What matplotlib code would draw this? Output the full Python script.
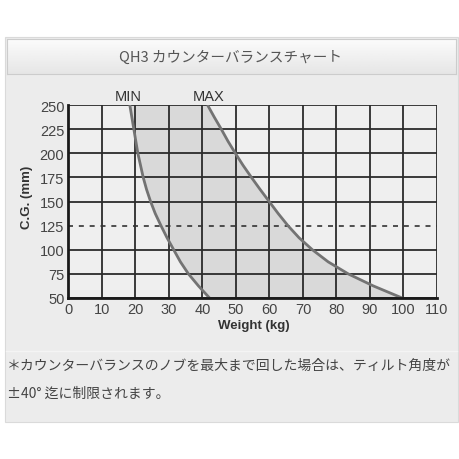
import matplotlib
matplotlib.use("Agg")
import matplotlib.pyplot as plt
import numpy as np
from matplotlib.patches import Rectangle

# --- data --------------------------------------------------------------------
CG_MM = [50, 62.5, 75, 87.5, 100, 112.5, 125, 137.5, 150,
         162.5, 175, 187.5, 200, 212.5, 225, 237.5, 250]
MIN_WEIGHT = [42.1, 38.8, 35.8, 33.4, 31.4, 29.4, 27.6, 25.9, 24.5,
              23.3, 22.3, 21.5, 20.7, 20.1, 19.5, 18.9, 18.3]
MAX_WEIGHT = [99.6, 91.0, 83.5, 77.5, 72.8, 68.8, 65.5, 62.6, 59.9,
              57.2, 54.6, 52.1, 49.8, 47.6, 45.6, 43.5, 41.5]
X_TICKS = list(range(0, 111, 10))
Y_TICKS = list(range(50, 251, 25))
LIMIT_CG = 125

TITLE = "QH3 カウンターバランスチャート"
NOTE_1 = "＊カウンターバランスのノブを最大まで回した場合は、ティルト角度が"
NOTE_2 = "±40° 迄に制限されます。"

W = H = 460
JP = ["Noto Sans CJK JP", "DejaVu Sans"]
SANS = ["Liberation Sans", "DejaVu Sans"]


def fx(px):
    return px / W


def fy(py):
    return 1 - py / H


fig = plt.figure(figsize=(4.6, 4.6), dpi=100)
fig.patch.set_facecolor("white")

# panel body (kept behind the axes)
panel = Rectangle((fx(5), fy(423)), fx(453), (423 - 38) / H,
                  transform=fig.transFigure, facecolor="#ececec",
                  edgecolor="#dadada", linewidth=0.8, zorder=-10)
fig.add_artist(panel)
fig.add_artist(plt.Line2D([fx(6), fx(457)], [fy(352), fy(352)],
                          transform=fig.transFigure, color="#f4f4f4",
                          lw=1.0, zorder=-9))

# title bar with a soft vertical gradient
tax = fig.add_axes([fx(7), fy(75), fx(449), (75 - 40) / H])
grad = np.linspace(0.985, 0.90, 64).reshape(-1, 1)
tax.imshow(grad, cmap="gray", vmin=0, vmax=1, aspect="auto",
           extent=[0, 1, 0, 1])
tax.set_xticks([])
tax.set_yticks([])
for s in tax.spines.values():
    s.set_color("#cccccc")
    s.set_linewidth(0.8)
fig.text(fx(231), fy(58), TITLE, family=JP, fontsize=10.5, color="#555555",
         ha="center", va="center")

# chart
ax = fig.add_axes([fx(68.5), fy(299), fx(437 - 68.5), (299 - 106) / H])
ax.set_facecolor("#efefef")
ax.set_xlim(0, 110)
ax.set_ylim(50, 250)

ax.fill_betweenx(CG_MM, MIN_WEIGHT, MAX_WEIGHT, color="#d9d9d9",
                 linewidth=0, zorder=1)

for v in X_TICKS:
    ax.axvline(v, color="#2b2b2b", lw=1.3, zorder=2)
for v in Y_TICKS:
    if v == LIMIT_CG:
        ax.axhline(v, color="#333333", lw=1.2, ls=(0, (3, 3.5)), zorder=2)
    else:
        ax.axhline(v, color="#2b2b2b", lw=1.3, zorder=2)

ax.plot(MIN_WEIGHT, CG_MM, color="#737373", lw=2.0, zorder=3,
        solid_capstyle="butt", solid_joinstyle="round")
ax.plot(MAX_WEIGHT, CG_MM, color="#737373", lw=2.0, zorder=3,
        solid_capstyle="butt", solid_joinstyle="round")

ax.set_xticks(X_TICKS)
ax.set_yticks(Y_TICKS)
ax.tick_params(length=0, pad=3, labelsize=10.5, labelcolor="#444444")
for lab in ax.get_xticklabels() + ax.get_yticklabels():
    lab.set_family(SANS)
for side in ("top", "right"):
    ax.spines[side].set_visible(False)
for side in ("left", "bottom"):
    ax.spines[side].set_linewidth(2.0)
    ax.spines[side].set_color("#1a1a1a")
    ax.spines[side].set_zorder(4)

fig.text(fx(128), fy(97), "MIN", family=SANS, fontsize=10.5,
         color="#333333", ha="center", va="center")
fig.text(fx(209), fy(97), "MAX", family=SANS, fontsize=10.5,
         color="#333333", ha="center", va="center")
fig.text(fx(27), fy(197), "C.G. (mm)", family=SANS, fontsize=9.5,
         fontweight="bold", color="#333333", rotation=90,
         ha="center", va="center")
fig.text(fx(254), fy(326), "Weight (kg)", family=SANS, fontsize=9.5,
         fontweight="bold", color="#333333", ha="center", va="center")

# footnote
fig.text(fx(7), fy(366), NOTE_1, family=JP, fontsize=10, color="#444444",
         ha="left", va="center")
fig.text(fx(7), fy(394), NOTE_2, family=JP, fontsize=10, color="#444444",
         ha="left", va="center")

fig.savefig("out.png", dpi=100)
